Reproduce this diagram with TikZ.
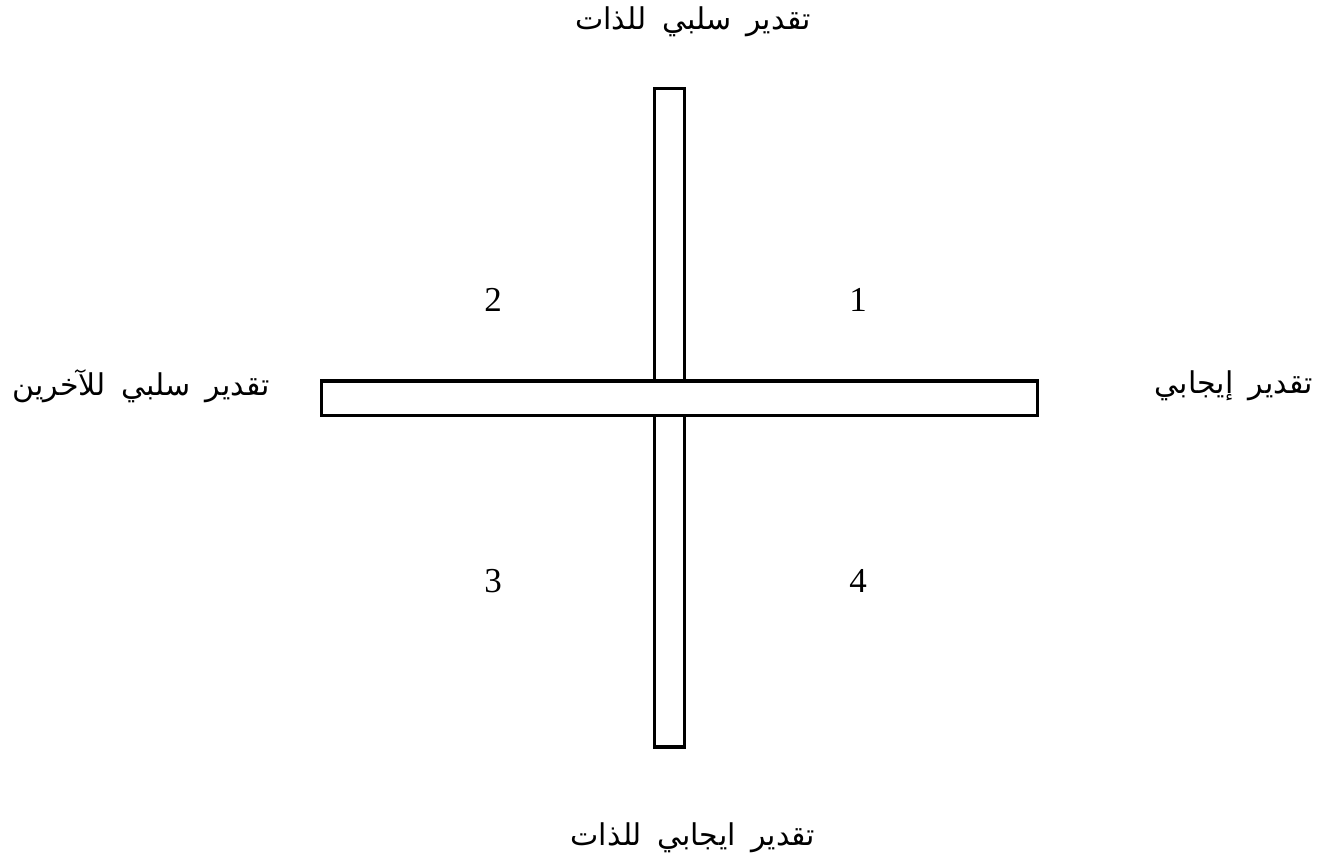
\documentclass[tikz,border=0pt]{standalone}
\usepackage{fontspec}
\setmainfont{Liberation Serif}
\newfontfamily\arabicfont[Script=Arabic,WordSpace=1.6]{DejaVu Sans}
\TeXXeTstate=1
\begin{document}
\begin{tikzpicture}[x=1pt,y=-1pt,
  bar/.style={draw=black,line width=3.2pt,fill=white,rectangle,inner sep=0pt},
  lbl/.style={inner sep=0pt,font=\arabicfont\fontsize{30}{36}\selectfont},
  num/.style={inner sep=0pt,font=\fontsize{35}{40}\selectfont}]
\useasboundingbox (0,0) rectangle (1323,864);
\node[bar,minimum width=30pt,minimum height=292.5pt] (vtop) at (669.5,234.75) {};
\node[bar,minimum width=30pt,minimum height=331.5pt] (vbot) at (669.5,581.25) {};
\node[bar,minimum width=716pt,minimum height=34.5pt] (hbar) at (679.5,398.25) {};
\node[lbl] (top) at (693,22) {\beginR تقدير سلبي للذات\endR};
\node[lbl] (bot) at (693,838) {\beginR تقدير ايجابي للذات\endR};
\node[lbl,anchor=east] (left) at (270,386) {\beginR تقدير سلبي للآخرين\endR};
\node[lbl,anchor=east] (right) at (1313,386) {\beginR تقدير إيجابي\endR};
\node[num] (n2) at (493,300) {2};
\node[num] (n1) at (858,300) {1};
\node[num] (n3) at (493,581) {3};
\node[num] (n4) at (858,581) {4};
\end{tikzpicture}
\end{document}
